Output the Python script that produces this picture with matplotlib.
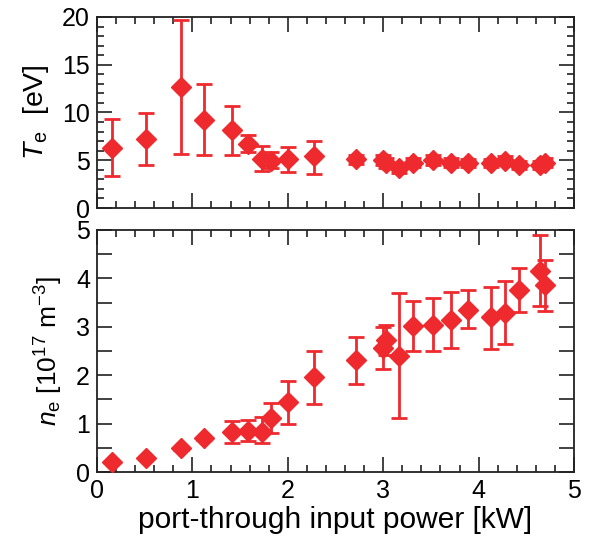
import matplotlib
matplotlib.use('Agg')
import matplotlib.pyplot as plt
from matplotlib.ticker import MultipleLocator
import numpy as np

# Data
power_kw = [0.16, 0.51, 0.88, 1.12, 1.42, 1.58, 1.73, 1.82, 2.0, 2.27,
            2.71, 3.0, 3.03, 3.17, 3.31, 3.52, 3.71, 3.89, 4.13, 4.28,
            4.42, 4.64, 4.70]

te_ev = [6.3, 7.2, 12.7, 9.2, 8.2, 6.7, 5.1, 4.95, 5.1, 5.4,
         5.1, 5.0, 4.7, 4.15, 4.75, 5.0, 4.75, 4.7, 4.7, 4.95,
         4.5, 4.5, 4.75]
te_hi = [9.35, 9.9, 19.7, 13.0, 10.7, 7.6, 6.5, 5.9, 6.4, 7.0,
         5.6, 5.5, 5.2, 4.6, 5.2, 5.5, 5.2, 5.1, 5.1, 5.4,
         4.9, 4.9, 5.2]
te_lo = [3.3, 4.5, 5.65, 5.5, 5.6, 5.9, 3.9, 4.15, 3.77, 3.6,
         4.6, 4.5, 4.2, 3.7, 4.3, 4.5, 4.3, 4.3, 4.3, 4.5,
         4.1, 4.1, 4.3]

ne = [0.2, 0.28, 0.49, 0.70, 0.83, 0.85, 0.83, 1.11, 1.45, 1.96,
      2.31, 2.57, 2.73, 2.4, 3.02, 3.04, 3.15, 3.35, 3.2, 3.29,
      3.76, 4.16, 3.86]
ne_hi = [0.22, 0.30, 0.52, 0.73, 1.06, 1.07, 1.13, 1.42, 1.87, 2.5,
         2.78, 3.0, 3.04, 3.69, 3.54, 3.6, 3.72, 3.75, 3.82, 3.95,
         4.22, 4.9, 4.39]
ne_lo = [0.18, 0.26, 0.46, 0.67, 0.6, 0.64, 0.59, 0.81, 1.0, 1.4,
         1.82, 2.12, 2.42, 1.12, 2.5, 2.49, 2.57, 2.97, 2.54, 2.64,
         3.3, 3.43, 3.33]

red = '#ee2a2f'

plt.rcParams['font.family'] = ['Liberation Sans', 'DejaVu Sans']
plt.rcParams['mathtext.fontset'] = 'custom'
plt.rcParams['mathtext.rm'] = 'Liberation Sans'
plt.rcParams['mathtext.it'] = 'Liberation Sans:italic'

fig = plt.figure(figsize=(5.9, 5.39), dpi=100)
ax1 = fig.add_axes([0.1644, 0.6141, 0.8085, 0.3544])
ax2 = fig.add_axes([0.1644, 0.1243, 0.8085, 0.4490])


def draw(ax, y, lo, hi):
    y = np.array(y)
    err = [y - np.array(lo), np.array(hi) - y]
    ax.errorbar(power_kw, y, yerr=err, fmt='D', color=red, ms=10.5,
                mec=red, elinewidth=2, capsize=6, capthick=2, zorder=3)


def style(ax):
    for s in ax.spines.values():
        s.set_linewidth(1.3)
        s.set_color('#222222')
    ax.set_xlim(0, 5)
    ax.xaxis.set_major_locator(MultipleLocator(1))
    ax.xaxis.set_minor_locator(MultipleLocator(0.2))
    ax.tick_params(which='both', direction='in', top=True, right=True,
                   labelsize=18, width=1.3, color='#333333', pad=5)
    ax.tick_params(which='major', length=10.5)
    ax.tick_params(which='minor', length=5)


draw(ax1, te_ev, te_lo, te_hi)
style(ax1)
ax1.set_ylim(0, 20)
ax1.yaxis.set_major_locator(MultipleLocator(5))
ax1.yaxis.set_minor_locator(MultipleLocator(1))
ax1.tick_params(axis='x', labelbottom=False)
ax1.set_ylabel(r'$T_{\rm e}$  [eV]', fontsize=20.5, labelpad=8)

draw(ax2, ne, ne_lo, ne_hi)
style(ax2)
ax2.set_ylim(0, 5)
ax2.yaxis.set_major_locator(MultipleLocator(1))
ax2.yaxis.set_minor_locator(MultipleLocator(0.5))
ax2.tick_params(axis='y', which='minor', length=10.5)
ax2.set_ylabel(r'$n_{\rm e}$ [10$^{17}$ m$^{-3}$]', fontsize=19, labelpad=8)
ax2.set_xlabel('port-through input power [kW]', fontsize=21.5, labelpad=2)

fig.savefig('out.png', dpi=100)
